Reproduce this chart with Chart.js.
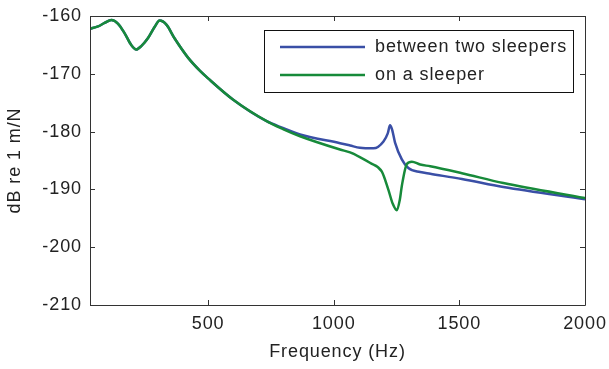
<!DOCTYPE html>
<html>
<head>
<meta charset="utf-8">
<script src="https://cdn.jsdelivr.net/npm/chart.js@4/dist/chart.umd.min.js"></script>
<style>
html,body{margin:0;padding:0;background:#fff;}
#wrap{width:609px;height:369px;}
</style>
</head>
<body>
<div id="wrap"><canvas id="c" width="609" height="369"></canvas></div>
<script>
// ---- data ----
const seriesNames = ["between two sleepers", "on a sleeper"];
const xTickValues = [500, 1000, 1500, 2000];
const yTickValues = [-210, -200, -190, -180, -170, -160];

// shared low-frequency part (both curves coincide)
const lowFreq    = [30, 62, 88, 115, 141, 168, 194, 214, 234, 261, 287, 307, 334, 367, 420, 468, 500, 600, 733, 800];
const lowDbBlue  = [-162.2, -161.8, -161.2, -160.7, -161.3, -163.0, -165.0, -165.8, -165.2, -163.8, -161.9, -160.8, -161.5, -163.9, -167.2, -169.5, -170.8, -174.5, -178.2, -179.4];
const lowDbGreen = [-162.2, -161.8, -161.2, -160.7, -161.3, -163.0, -165.0, -165.8, -165.2, -163.8, -161.9, -160.8, -161.5, -163.9, -167.2, -169.5, -170.8, -174.5, -178.2, -179.6];

const betweenFreq = [866, 1025, 1065, 1104, 1158, 1198, 1215, 1224, 1232, 1244, 1271, 1297, 1344, 1384, 1510, 1675, 2000];
const betweenDb   = [-180.5, -182.0, -182.4, -182.8, -182.9, -181.7, -180.3, -178.9, -179.6, -181.9, -184.8, -186.3, -187.0, -187.3, -188.2, -189.6, -191.7];

const onFreq = [866, 1025, 1065, 1104, 1144, 1191, 1217, 1235, 1251, 1263, 1271, 1291, 1311, 1344, 1384, 1510, 1675, 2000];
const onDb   = [-180.8, -183.1, -183.6, -184.4, -185.4, -186.9, -190.0, -192.5, -193.6, -191.8, -189.4, -185.6, -185.2, -185.7, -186.0, -187.2, -188.9, -191.5];

const xMin = 30, xMax = 2000, yMin = -210, yMax = -160;

function toPoints(fs, vs){ return fs.map((f,i)=>({x:f, y:vs[i]})); }
const bluePts = toPoints(lowFreq.concat(betweenFreq), lowDbBlue.concat(betweenDb));
const greenPts = toPoints(lowFreq.concat(onFreq), lowDbGreen.concat(onDb));

const BLUE = '#3a4fa6', GREEN = '#178a3a', AXIS = '#333333';
const FONT = 'Liberation Sans, Arial, sans-serif';
const SPACING = '0.9px';

const spacingPlugin = {
  id: 'spacing',
  beforeInit(c){ c.ctx.letterSpacing = SPACING; },
  beforeUpdate(c){ c.ctx.letterSpacing = SPACING; },
  beforeLayout(c){ c.ctx.letterSpacing = SPACING; },
  beforeDraw(c){ c.ctx.letterSpacing = SPACING; }
};

const axesPlugin = {
  id: 'matlabAxes',
  afterDatasetsDraw(c){
    const ctx = c.ctx, a = c.chartArea, xs = c.scales.x, ys = c.scales.y;
    ctx.save();
    ctx.strokeStyle = AXIS; ctx.lineWidth = 1;
    ctx.beginPath();
    ctx.rect(Math.round(a.left)+0.5, Math.round(a.top)+0.5, Math.round(a.right-a.left), Math.round(a.bottom-a.top));
    ctx.stroke();
    const L = 5;
    ctx.beginPath();
    xTickValues.forEach(v=>{
      const px = Math.round(xs.getPixelForValue(v))+0.5;
      ctx.moveTo(px, a.bottom); ctx.lineTo(px, a.bottom-L);
      ctx.moveTo(px, a.top); ctx.lineTo(px, a.top+L);
    });
    yTickValues.forEach(v=>{
      const py = Math.round(ys.getPixelForValue(v))+0.5;
      ctx.moveTo(a.left, py); ctx.lineTo(a.left+L, py);
      ctx.moveTo(a.right, py); ctx.lineTo(a.right-L, py);
    });
    ctx.stroke();

    // legend box
    const bx = 264.5, by = 30.5, bw = 309, bh = 62;
    ctx.fillStyle = '#fff';
    ctx.fillRect(bx, by, bw, bh);
    ctx.strokeStyle = '#111'; ctx.strokeRect(bx, by, bw, bh);
    ctx.font = '18px ' + FONT;
    ctx.letterSpacing = SPACING;
    ctx.textBaseline = 'middle'; ctx.textAlign = 'left';
    c.data.datasets.forEach((d, i)=>{
      const yy = 47 + i*28;
      ctx.strokeStyle = d.borderColor; ctx.lineWidth = 2.5;
      ctx.beginPath(); ctx.moveTo(280, yy); ctx.lineTo(365, yy); ctx.stroke();
      ctx.fillStyle = '#222';
      ctx.fillText(d.label, 375, yy);
    });
    ctx.restore();
  }
};

new Chart(document.getElementById('c'), {
  type: 'scatter',
  data: {
    datasets: [
      { label: seriesNames[0], data: bluePts, showLine: true, borderColor: BLUE, backgroundColor: BLUE,
        borderWidth: 2.5, pointRadius: 0, cubicInterpolationMode: 'monotone', order: 2 },
      { label: seriesNames[1], data: greenPts, showLine: true, borderColor: GREEN, backgroundColor: GREEN,
        borderWidth: 2.5, pointRadius: 0, cubicInterpolationMode: 'monotone', order: 1 }
    ]
  },
  options: {
    responsive: false,
    animation: false,
    devicePixelRatio: 1,
    layout: { padding: { left: 0, right: 24, top: 16, bottom: 0 } },
    plugins: { legend: { display: false }, tooltip: { enabled: false } },
    scales: {
      x: {
        type: 'linear', min: xMin, max: xMax,
        afterBuildTicks(s){ s.ticks = xTickValues.map(v=>({value:v})); },
        afterFit(s){ s.height = 64; s.paddingLeft = 0; s.paddingRight = 0; },
        grid: { display: false, drawTicks: false },
        border: { display: false },
        ticks: { color: '#222', font: { family: FONT, size: 18 }, padding: 8, maxRotation: 0, autoSkip: false,
                 callback: v => String(v) },
        title: { display: true, text: 'Frequency (Hz)', color: '#222', font: { family: FONT, size: 18 }, padding: { top: 0, bottom: 6 } }
      },
      y: {
        type: 'linear', min: yMin, max: yMax,
        afterBuildTicks(s){ s.ticks = yTickValues.map(v=>({value:v})); },
        afterFit(s){ s.width = 90; s.paddingTop = 0; s.paddingBottom = 0; },
        grid: { display: false, drawTicks: false },
        border: { display: false },
        ticks: { color: '#222', font: { family: FONT, size: 18 }, padding: 8, autoSkip: false,
                 callback: v => String(v) },
        title: { display: true, text: 'dB re 1 m/N', color: '#222', font: { family: FONT, size: 18 }, padding: { top: 4, bottom: 0 } }
      }
    }
  },
  plugins: [spacingPlugin, axesPlugin]
});
</script>
</body>
</html>
